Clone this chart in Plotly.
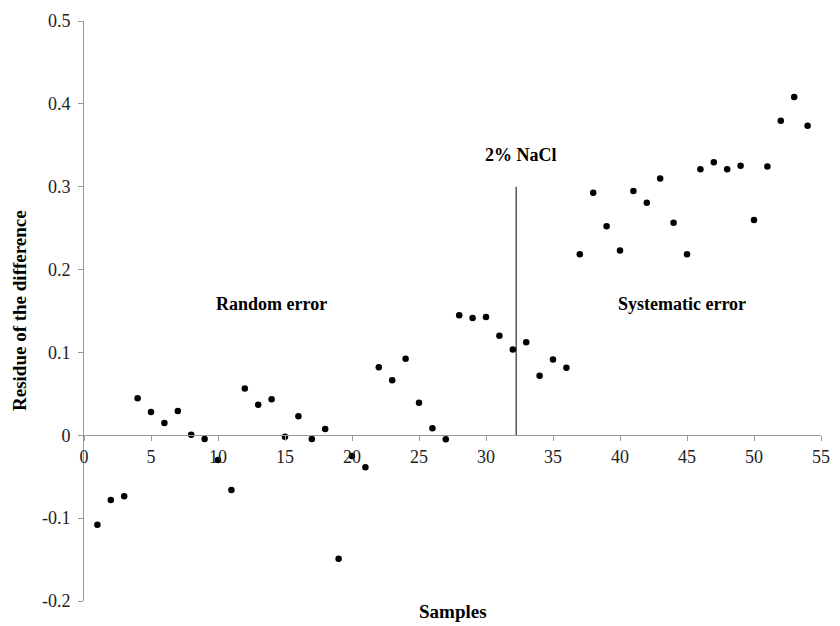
import plotly.graph_objects as go

samples = list(range(1, 55))
residues = [-0.108, -0.078, -0.0735, 0.0446, 0.028, 0.0148, 0.0293, 0.0007, -0.0045, -0.0298,
            -0.066, 0.0566, 0.0369, 0.0434, -0.0017, 0.0229, -0.0045, 0.0076, -0.149, -0.025,
            -0.0386, 0.082, 0.0663, 0.0923, 0.0393, 0.0084, -0.0048, 0.145, 0.1417, 0.1429,
            0.12, 0.1036, 0.1124, 0.0718, 0.0916, 0.0815, 0.2184, 0.2928, 0.2522, 0.2229,
            0.2947, 0.2807, 0.31, 0.2566, 0.2184, 0.3212, 0.3296, 0.3212, 0.3253, 0.2598,
            0.3245, 0.3795, 0.4084, 0.3735]

divider_x = [32.25, 32.25]
divider_y = [0.0, 0.3]

annotations_text = ["2% NaCl", "Random error", "Systematic error"]
annotations_x = [32.6, 14.0, 44.6]
annotations_y = [0.338, 0.158, 0.158]

x_ticks = [0, 5, 10, 15, 20, 25, 30, 35, 40, 45, 50, 55]
y_ticks = [-0.2, -0.1, 0, 0.1, 0.2, 0.3, 0.4, 0.5]
y_labels = ["-0.2", "-0.1", "0", "0.1", "0.2", "0.3", "0.4", "0.5"]

FONT = "Liberation Serif"
y_min, y_max = -0.2, 0.5

fig = go.Figure()
fig.add_trace(go.Scatter(x=divider_x, y=divider_y, mode="lines",
                         line=dict(color="black", width=1), hoverinfo="skip",
                         showlegend=False))
fig.add_trace(go.Scatter(x=samples, y=residues, mode="markers",
                         marker=dict(color="black", size=6.5), showlegend=False))

for t, ax, ay in zip(annotations_text, annotations_x, annotations_y):
    fig.add_annotation(x=ax, y=ay, text="<b>" + t + "</b>", showarrow=False,
                       xref="x", yref="y",
                       font=dict(family=FONT, size=18, color="black"))

fig.add_annotation(x=-84 / 746, y=0.5, xref="paper", yref="paper",
                   text="<b>Residue of the difference</b>", textangle=-90, showarrow=False,
                   xanchor="center", yanchor="middle", xshift=18,
                   font=dict(family=FONT, size=19, color="black"))
fig.add_annotation(x=0.5, y=0, xref="paper", yref="paper", text="<b>Samples</b>",
                   showarrow=False, yanchor="middle", yshift=-10,
                   font=dict(family=FONT, size=19, color="black"))

fig.update_layout(
    width=840, height=626,
    margin=dict(l=84, r=10, t=21, b=25),
    plot_bgcolor="white", paper_bgcolor="white",
    font=dict(family=FONT),
    xaxis=dict(range=[0, 55], tickvals=x_ticks, ticks="outside", ticklen=5,
               tickcolor="#999999", showline=True, linecolor="#999999", linewidth=1,
               showgrid=False, zeroline=False, anchor="free",
               position=(0 - y_min) / (y_max - y_min),
               tickfont=dict(family=FONT, size=18, color="#222222")),
    yaxis=dict(range=[y_min, y_max], tickvals=y_ticks, ticktext=y_labels,
               ticks="outside", ticklen=5, tickcolor="#999999", showline=True,
               linecolor="#999999", linewidth=1, showgrid=False, zeroline=False,
               ticklabelstandoff=4,
               tickfont=dict(family=FONT, size=18, color="#222222")),
)

fig.write_html("out.html")
